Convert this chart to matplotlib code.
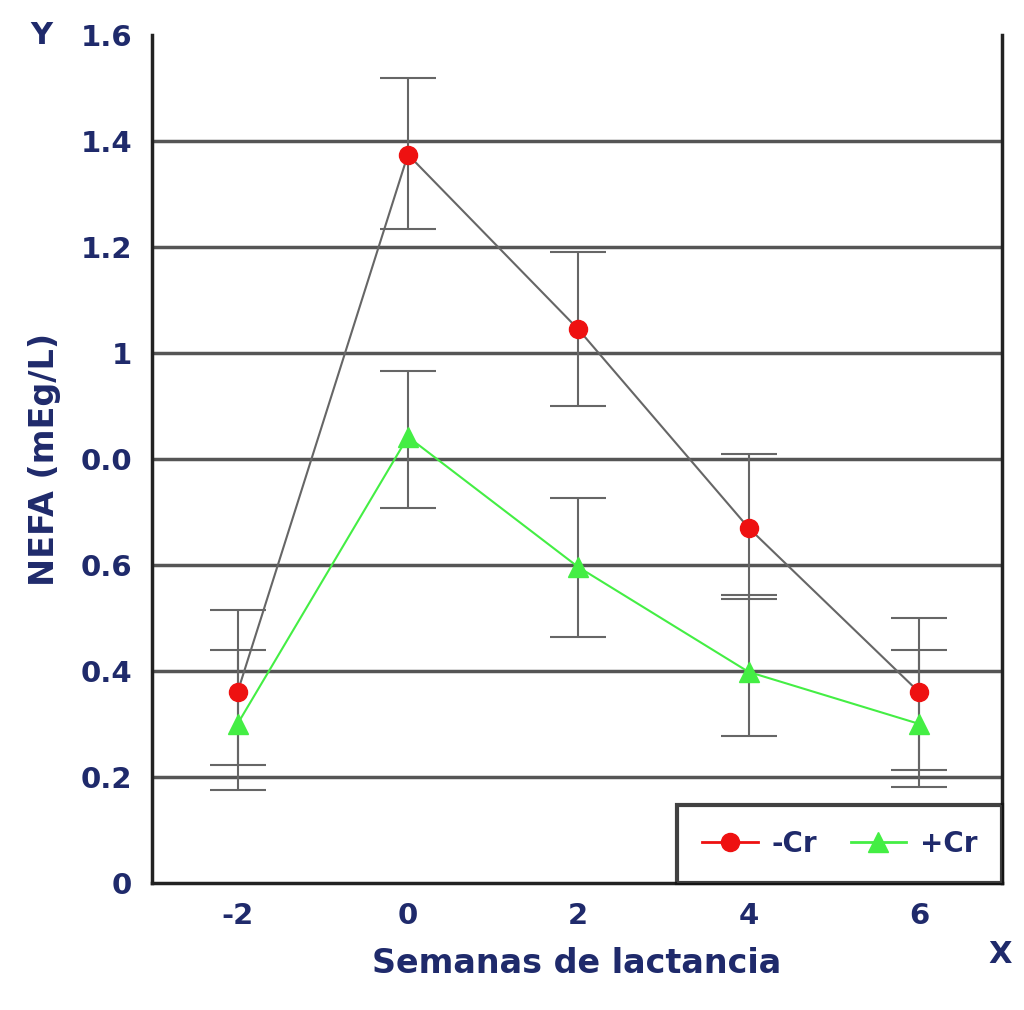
import matplotlib.pyplot as plt
from matplotlib.lines import Line2D

plt.rcParams["axes.unicode_minus"] = False

semanas = [-2, 0, 2, 4, 6]
menos_cr = [0.36, 1.375, 1.045, 0.67, 0.36]
menos_cr_low = [0.185, 0.14, 0.145, 0.135, 0.18]
menos_cr_high = [0.155, 0.145, 0.145, 0.14, 0.14]
mas_cr = [0.30, 0.842, 0.596, 0.398, 0.30]
mas_cr_low = [0.077, 0.135, 0.132, 0.12, 0.087]
mas_cr_high = [0.14, 0.125, 0.13, 0.145, 0.14]
yticks = [0, 0.2, 0.4, 0.6, 0.8, 1.0, 1.2, 1.4, 1.6]
ylabels = ["0", "0.2", "0.4", "0.6", "0.0", "1", "1.2", "1.4", "1.6"]

navy = "#1f2a6b"
fig = plt.figure(figsize=(10.24, 10.10), dpi=100)
ax = fig.add_axes([0.148, 0.126, 0.831, 0.839])

for y in yticks[1:-1]:
    ax.axhline(y, color="#555555", lw=2.5, zorder=1)

ax.errorbar(semanas, menos_cr, yerr=[menos_cr_low, menos_cr_high], fmt="none",
            ecolor="#666666", elinewidth=1.5, capsize=20, capthick=1.5, zorder=2)
ax.errorbar(semanas, mas_cr, yerr=[mas_cr_low, mas_cr_high], fmt="none",
            ecolor="#666666", elinewidth=1.5, capsize=20, capthick=1.5, zorder=2)
ax.plot(semanas, menos_cr, color="#666666", lw=1.5, zorder=3)
ax.plot(semanas, mas_cr, color="#44ee44", lw=1.5, zorder=3)
ax.plot(semanas, menos_cr, "o", color="#ee1111", ms=13, zorder=4)
ax.plot(semanas, mas_cr, "^", color="#44ee44", ms=15, zorder=4)

ax.set_xlim(-3.01, 6.98)
ax.set_ylim(0, 1.6)
ax.set_xticks(semanas)
ax.set_yticks(yticks)
ax.set_yticklabels(ylabels)
ax.tick_params(length=0, labelsize=21, labelcolor=navy, pad=14)
for t in ax.get_xticklabels() + ax.get_yticklabels():
    t.set_fontweight("bold")
ax.spines["top"].set_visible(False)
for s in ["left", "bottom", "right"]:
    ax.spines[s].set_linewidth(2.5)
    ax.spines[s].set_color("#222222")

ax.set_xlabel("Semanas de lactancia", fontsize=24, fontweight="bold", color=navy, labelpad=12)
ax.set_ylabel("NEFA (mEg/L)", fontsize=24, fontweight="bold", color=navy, labelpad=14)
fig.text(0.03, 0.965, "Y", fontsize=22, fontweight="bold", color=navy, va="center")
fig.text(0.965, 0.055, "X", fontsize=22, fontweight="bold", color=navy, va="center")

handles = [Line2D([], [], color="#ee1111", marker="o", ms=13, lw=2),
           Line2D([], [], color="#44ee44", marker="^", ms=15, lw=2)]
leg = ax.legend(handles, ["-Cr", "+Cr"], loc="lower right", ncol=2, fontsize=20,
                frameon=True, fancybox=False, borderpad=0.9, handlelength=2.0,
                handletextpad=0.5, columnspacing=1.2, borderaxespad=0)
leg.get_frame().set_edgecolor("#111111")
leg.get_frame().set_linewidth(3)
for t in leg.get_texts():
    t.set_color(navy)
    t.set_fontweight("bold")

fig.savefig("out.png", dpi=100)
